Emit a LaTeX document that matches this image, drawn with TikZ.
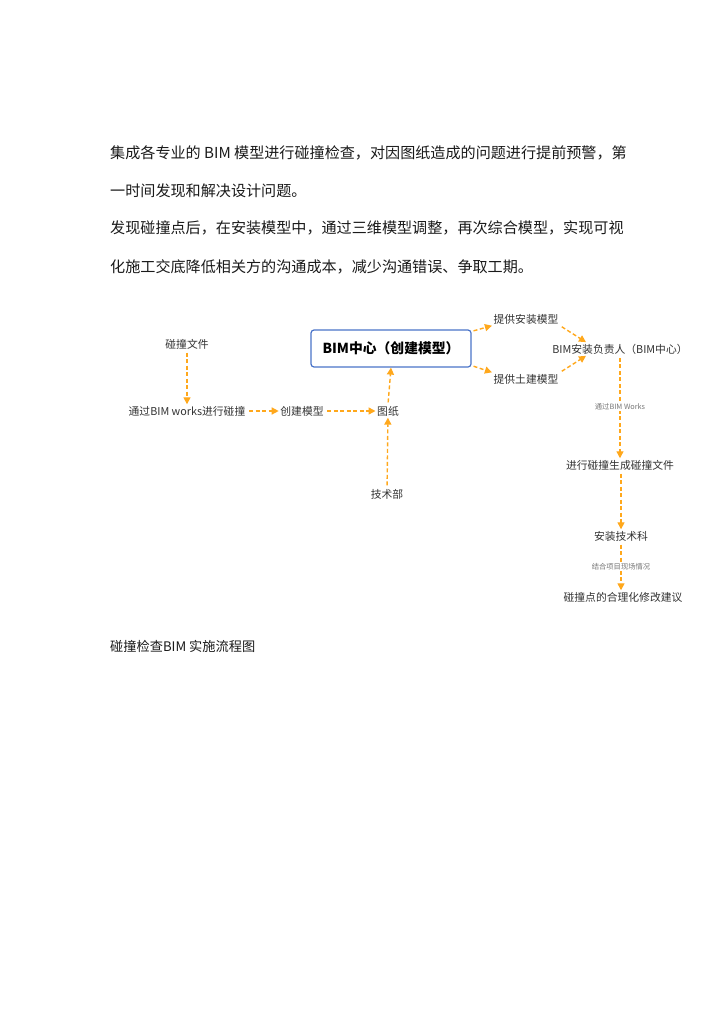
\documentclass[tikz,border=0pt]{standalone}
\usepackage{fontspec}
\setmainfont{Noto Sans CJK SC}
\usetikzlibrary{arrows.meta,calc}
\definecolor{arr}{HTML}{FFA81C}
\definecolor{boxblue}{HTML}{4A74C9}
\definecolor{txt}{HTML}{1A1A1A}
\definecolor{dtxt}{HTML}{333333}
\definecolor{ltxt}{HTML}{777777}
\begin{document}
\begin{tikzpicture}[x=1pt,y=-1pt,
  body/.style={anchor=west, inner sep=0pt, font=\fontsize{15.1}{15.1}\selectfont, text=txt},
  lbl/.style={inner sep=1.5pt, font=\fontsize{10.8}{10.8}\selectfont, text=dtxt},
  tiny/.style={inner sep=1pt, font=\fontsize{7.3}{7.3}\selectfont, text=ltxt, fill=white},
  flow/.style={draw=arr, line width=1.4pt, dash pattern=on 4pt off 2.5pt,
    -{Triangle[length=7pt,width=7pt]}, shorten <=2pt}]
\useasboundingbox (0,0) rectangle (724,1024);
\fill[white] (0,0) rectangle (724,1024);
% body text
\node[body] (l1) at (110,153) {集成各专业的 BIM 模型进行碰撞检查，对因图纸造成的问题进行提前预警，第};
\node[body] (l2) at (110,191) {一时间发现和解决设计问题。};
\node[body] (l3) at (110,228) {发现碰撞点后，在安装模型中，通过三维模型调整，再次综合模型，实现可视};
\node[body] (l4) at (110,267) {化施工交底降低相关方的沟通成本，减少沟通错误、争取工期。};
% diagram
\node[lbl] (pz) at (187,344) {碰撞文件};
\node[lbl] (tg) at (187,411) {通过BIM works进行碰撞};
\node[lbl] (cj) at (302,411) {创建模型};
\node[lbl] (tz) at (388,411) {图纸};
\node[lbl] (js) at (387,494) {技术部};
\node[draw=boxblue, line width=1.2pt, rounded corners=3pt, minimum width=160pt,
  minimum height=37pt, text=black, font=\bfseries\fontsize{13.8}{13.8}\selectfont] (bim) at (391,348.5) {BIM中心（创建模型）};
\node[lbl] (az) at (526,319) {提供安装模型};
\node[lbl] (tj) at (526,379) {提供土建模型};
\node[lbl] (fz) at (620,349) {BIM安装负责人（BIM中心）};
\node[lbl] (sc) at (620,465) {进行碰撞生成碰撞文件};
\node[lbl] (jk) at (621,536) {安装技术科};
\node[lbl] (jy) at (623,597) {碰撞点的合理化修改建议};
\node[body, font=\fontsize{13.2}{13.2}\selectfont] (cap) at (110,646) {碰撞检查BIM 实施流程图};
% connectors
\draw[flow] (pz.south) -- (tg.north);
\draw[flow] (tg) -- (cj);
\draw[flow] (cj) -- (tz);
\draw[flow] (js) -- (tz);
\draw[flow] (tz.north) -- (bim.south);
\draw[flow] ($(bim.north east)+(0,2)$) -- (az.south west);
\draw[flow] ($(bim.south east)+(0,-2)$) -- (tj.north west);
\draw[flow] (az.south east) -- ($(fz.north)+(-34,0)$);
\draw[flow] (tj.north east) -- ($(fz.south)+(-34,0)$);
\draw[flow] (fz.south -| sc.north) -- (sc.north) node[midway,tiny] {通过BIM Works};
\draw[flow] (sc.south -| jk.north) -- (jk.north);
\draw[flow] (jk.south) -- (jk.south |- jy.north) node[midway,tiny] {结合项目现场情况};
\end{tikzpicture}
\end{document}
